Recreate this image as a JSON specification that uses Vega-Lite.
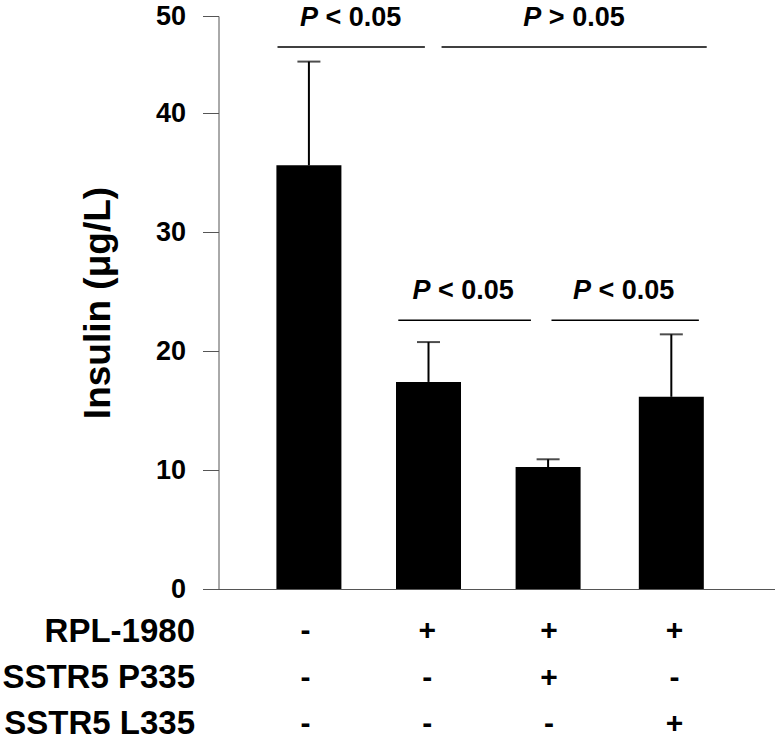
{
  "$schema": "https://vega.github.io/schema/vega-lite/v6.json",
  "padding": {"left": 1.5, "top": 2, "right": 0, "bottom": 0},
  "config": {
    "font": "Liberation Sans",
    "view": {"stroke": null},
    "axis": {"grid": false, "labelColor": "black", "titleColor": "black"}
  },
  "datasets": {
    "bars": [
      {"pos": 1, "insulin": 35.6, "upper": 45.3},
      {"pos": 1.99, "insulin": 17.4, "upper": 20.75},
      {"pos": 2.98, "insulin": 10.25, "upper": 10.9},
      {"pos": 4, "insulin": 16.15, "upper": 21.4}
    ],
    "lines": [
      {"x1": 0.74, "x2": 1.96, "ly": 46.8},
      {"x1": 2.098, "x2": 4.293, "ly": 46.8},
      {"x1": 1.74, "x2": 2.838, "ly": 22.58},
      {"x1": 3.008, "x2": 4.228, "ly": 22.58}
    ],
    "labels": [
      {"cx": 1.346, "ty": 48.97, "rel": "< 0.05"},
      {"cx": 3.195, "ty": 48.97, "rel": "> 0.05"},
      {"cx": 2.277, "ty": 24.37, "rel": "< 0.05"},
      {"cx": 3.606, "ty": 24.37, "rel": "< 0.05"}
    ],
    "signs": [
      {"pos": 1, "row": "RPL-1980", "sign": "-"},
      {"pos": 1.99, "row": "RPL-1980", "sign": "+"},
      {"pos": 2.98, "row": "RPL-1980", "sign": "+"},
      {"pos": 4, "row": "RPL-1980", "sign": "+"},
      {"pos": 1, "row": "SSTR5 P335", "sign": "-"},
      {"pos": 1.99, "row": "SSTR5 P335", "sign": "-"},
      {"pos": 2.98, "row": "SSTR5 P335", "sign": "+"},
      {"pos": 4, "row": "SSTR5 P335", "sign": "-"},
      {"pos": 1, "row": "SSTR5 L335", "sign": "-"},
      {"pos": 1.99, "row": "SSTR5 L335", "sign": "-"},
      {"pos": 2.98, "row": "SSTR5 L335", "sign": "-"},
      {"pos": 4, "row": "SSTR5 L335", "sign": "+"}
    ]
  },
  "bounds": "flush",
  "spacing": 33.5,
  "vconcat": [
    {
      "width": 557,
      "height": 573,
      "layer": [
        {
          "data": {"name": "bars"},
          "mark": {"type": "bar", "color": "black", "size": 65},
          "encoding": {
            "x": {
              "field": "pos", "type": "quantitative",
              "scale": {"domain": [0.293, 4.821], "nice": false, "zero": false},
              "axis": {"labels": false, "ticks": false, "domain": true, "domainColor": "#555", "domainWidth": 1, "title": null, "grid": false}
            },
            "y": {
              "field": "insulin", "type": "quantitative",
              "scale": {"domain": [0, 40, 50], "range": [573, 97, 0], "nice": false, "zero": false},
              "axis": {
                "values": [0, 10, 20, 30, 40, 50],
                "title": "Insulin (μg/L)",
                "titleFontSize": 37, "titleFontWeight": "bold", "titlePadding": 38,
                "labelFontSize": 27, "labelFontWeight": "bold", "labelPadding": 17,
                "tickSize": 16, "tickColor": "#555", "tickWidth": 1,
                "domainColor": "#555", "domainWidth": 1
              }
            }
          }
        },
        {
          "data": {"name": "bars"},
          "mark": {"type": "rule", "color": "black", "strokeWidth": 2},
          "encoding": {
            "x": {"field": "pos", "type": "quantitative"},
            "y": {"field": "insulin", "type": "quantitative"},
            "y2": {"field": "upper"}
          }
        },
        {
          "data": {"name": "bars"},
          "mark": {"type": "tick", "color": "black", "orient": "horizontal", "size": 23, "thickness": 2},
          "encoding": {
            "x": {"field": "pos", "type": "quantitative"},
            "y": {"field": "upper", "type": "quantitative"}
          }
        },
        {
          "data": {"name": "lines"},
          "mark": {"type": "rule", "color": "black", "strokeWidth": 1.5},
          "encoding": {
            "x": {"field": "x1", "type": "quantitative"},
            "x2": {"field": "x2"},
            "y": {"field": "ly", "type": "quantitative"}
          }
        },
        {
          "data": {"name": "labels"},
          "mark": {"type": "text", "text": "P", "font": "Liberation Sans", "fontSize": 27, "fontWeight": "bold", "fontStyle": "italic", "align": "right", "baseline": "alphabetic", "dx": -32.7, "color": "black"},
          "encoding": {
            "x": {"field": "cx", "type": "quantitative"},
            "y": {"field": "ty", "type": "quantitative"}
          }
        },
        {
          "data": {"name": "labels"},
          "mark": {"type": "text", "font": "Liberation Sans", "fontSize": 27, "fontWeight": "bold", "align": "left", "baseline": "alphabetic", "dx": -25.2, "color": "black"},
          "encoding": {
            "x": {"field": "cx", "type": "quantitative"},
            "y": {"field": "ty", "type": "quantitative"},
            "text": {"field": "rel"}
          }
        }
      ]
    },
    {
      "width": 557,
      "height": 110,
      "data": {"name": "signs"},
      "mark": {"type": "text", "fontSize": 30, "fontWeight": "bold", "baseline": "middle", "color": "black"},
      "encoding": {
        "x": {
          "field": "pos", "type": "quantitative",
          "scale": {"domain": [0.293, 4.821], "nice": false, "zero": false},
          "axis": null
        },
        "y": {
          "field": "row", "type": "nominal",
          "sort": ["RPL-1980", "SSTR5 P335", "SSTR5 L335"],
          "scale": {"type": "point", "padding": 0.183},
          "axis": {"title": null, "domain": false, "ticks": false, "tickSize": 0, "labelFontSize": 33, "labelFontWeight": "bold", "labelPadding": 24, "labelLimit": 0}
        },
        "text": {"field": "sign"}
      }
    }
  ]
}
